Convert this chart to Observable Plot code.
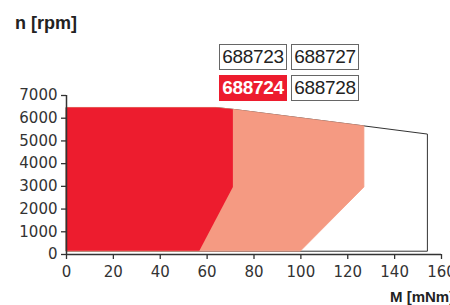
<!DOCTYPE html>
<html>
<head>
<meta charset="utf-8">
<script src="https://cdn.jsdelivr.net/npm/d3@7"></script>
<script src="https://cdn.jsdelivr.net/npm/@observablehq/plot@0.6"></script>
<style>
  html, body { margin: 0; padding: 0; background: #fff; }
  #wrap { position: relative; width: 450px; height: 305px; overflow: hidden; font-family: "Liberation Sans", Arial, sans-serif; color: #222; }
  #wrap svg { position: absolute; left: 0; top: 0; }
  .ttl { position: absolute; font-weight: bold; white-space: nowrap; color: #222; line-height: 1; }
  .lg { position: absolute; box-sizing: border-box; width: 68px; height: 26px; border: 1.5px solid #666; background: #fff;
        font-size: 19px; line-height: 23px; text-align: center; color: #222; letter-spacing: -0.3px; }
  .lg.on { background: #ED1C2E; border-color: #ED1C2E; color: #fff; font-weight: bold; }
</style>
</head>
<body>
<div id="wrap"></div>
<script>
// Axis ticks
const xTicks = [0, 20, 40, 60, 80, 100, 120, 140, 160];
const yTicks = [0, 1000, 2000, 3000, 4000, 5000, 6000, 7000];

// Legend labels
const legendLabels = ["688723", "688727", "688724", "688728"];

// Operating range boundaries: speed n [rpm] and right-hand torque edge M [mNm]
const outerEdgeN = [140, 5280, 5640, 6370, 6450];
const outerEdgeM = [154.2, 154.2, 127.1, 71.2, 64];

const salmonEdgeN = [140, 2950, 5640, 6370, 6450];
const salmonEdgeM = [100.1, 127.1, 127.1, 71.2, 64];

const redEdgeN = [140, 2950, 6370, 6450];
const redEdgeM = [56.9, 71.2, 71.2, 64];

const toRows = (ns, ms) => ns.map((n, i) => ({n, m: ms[i]}));

const RED = "#ED1C2E";
const SALMON = "#F59A82";
const INK = "#333";

const chart = Plot.plot({
  width: 450,
  height: 305,
  marginTop: 95,
  marginBottom: 51,
  marginLeft: 66,
  marginRight: 9,
  style: { fontFamily: "DejaVu Sans, sans-serif", fontSize: "15px", color: INK, background: "transparent" },
  x: { domain: [0, 160], ticks: xTicks },
  y: { domain: [0, 7000], ticks: yTicks },
  marks: [
    Plot.areaX(toRows(outerEdgeN, outerEdgeM), { y: "n", x1: 0, x2: "m", fill: "#fff", stroke: INK, strokeWidth: 1 }),
    Plot.areaX(toRows(salmonEdgeN, salmonEdgeM), { y: "n", x1: 0, x2: "m", fill: SALMON, stroke: SALMON, strokeWidth: 0.8 }),
    Plot.areaX(toRows(redEdgeN, redEdgeM), { y: "n", x1: 0, x2: "m", fill: RED }),
    Plot.axisX({ ticks: xTicks, tickFormat: d3.format("d"), tickSize: 5, tickPadding: 7, label: null, stroke: INK, strokeWidth: 1.3, fill: INK, fontSize: 15 }),
    Plot.axisY({ ticks: yTicks, tickFormat: d3.format("d"), tickSize: 5, tickPadding: 4, label: null, stroke: INK, strokeWidth: 1.3, fill: INK, fontSize: 15 }),
    Plot.ruleY([0], { stroke: INK, strokeWidth: 1.5 }),
    Plot.ruleX([0], { stroke: INK, strokeWidth: 1.5 })
  ]
});

const wrap = document.getElementById("wrap");
wrap.appendChild(chart);

const t1 = document.createElement("div");
t1.className = "ttl";
t1.textContent = "n [rpm]";
t1.style.cssText = "left:15px;top:14px;font-size:18px;";
wrap.appendChild(t1);

const t2 = document.createElement("div");
t2.className = "ttl";
t2.textContent = "M [mNm]";
t2.style.cssText = "left:390px;top:289px;font-size:15px;";
wrap.appendChild(t2);

const pos = [[219, 44], [291, 44], [219, 75], [291, 75]];
legendLabels.forEach((lab, i) => {
  const d = document.createElement("div");
  d.className = "lg" + (lab === "688724" ? " on" : "");
  d.textContent = lab;
  d.style.left = pos[i][0] + "px";
  d.style.top = pos[i][1] + "px";
  wrap.appendChild(d);
});
</script>
</body>
</html>
